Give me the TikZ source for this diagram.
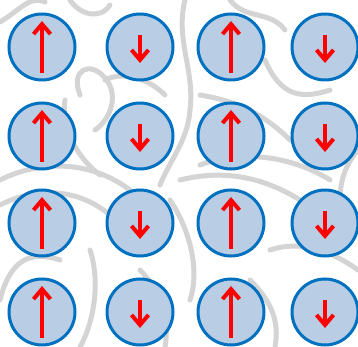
\documentclass[tikz,border=0pt]{standalone}
\usetikzlibrary{arrows.meta}

\definecolor{spinblue}{HTML}{0070C0}
\definecolor{spinfill}{HTML}{B9CDE5}
\definecolor{doodle}{HTML}{D4D4D4}

\begin{document}
\begin{tikzpicture}[
        x=1pt, y=-1pt,
        site/.style={circle, draw=spinblue, fill=spinfill, line width=3pt,
                     minimum size=66pt, inner sep=0pt},
        spin/.style={draw=red, line width=4pt,
                     -{Straight Barb[length=10pt, width=17pt, line width=4pt]}},
        bg/.style={draw=doodle, line width=5pt, line cap=round, line join=round},
    ]
    \useasboundingbox (0,0) rectangle (358,347);

    % background line drawing
    \draw[bg] (0,22) .. controls (20,10) and (30,-5) .. (45,2);
    \draw[bg] (70,0) .. controls (80,15) and (100,20) .. (110,5);
    \draw[bg] (80,95) .. controls (70,70) and (90,60) .. (105,78)
              .. controls (120,95) and (110,120) .. (95,130);
    \draw[bg] (65,100) .. controls (60,130) and (80,160) .. (100,175);
    \draw[bg] (105,80) .. controls (125,70) and (150,80) .. (165,95);
    \draw[bg] (185,0) .. controls (175,40) and (195,70) .. (190,110)
              .. controls (188,140) and (170,160) .. (160,185);
    \draw[bg] (230,0) .. controls (245,20) and (270,10) .. (285,30);
    \draw[bg] (265,60) .. controls (280,95) and (300,100) .. (330,90);
    \draw[bg] (200,95) .. controls (230,100) and (260,110) .. (290,140);
    \draw[bg] (0,180) .. controls (40,160) and (90,160) .. (130,190);
    \draw[bg] (0,205) .. controls (40,185) and (80,190) .. (110,215);
    \draw[bg] (0,300) .. controls (10,260) and (30,250) .. (60,260);
    \draw[bg] (90,250) .. controls (100,280) and (95,320) .. (80,347);
    \draw[bg] (170,200) .. controls (190,230) and (200,270) .. (190,300);
    \draw[bg] (180,180) .. controls (220,170) and (260,175) .. (300,200);
    \draw[bg] (200,165) .. controls (240,150) and (290,155) .. (330,180);
    \draw[bg] (270,250) .. controls (300,240) and (330,250) .. (358,270);
    \draw[bg] (250,280) .. controls (270,300) and (280,320) .. (275,347);
    \draw[bg] (140,270) .. controls (160,290) and (170,320) .. (165,347);
    \draw[bg] (358,150) .. controls (340,170) and (335,200) .. (345,230);

    % spin lattice
    \foreach \row/\ypos in {1/47, 2/136, 3/223, 4/312} {
        \foreach \col/\xpos in {1/42, 2/140, 3/231, 4/325} {
            \node[site] (s-\row-\col) at (\xpos,\ypos) {};
        }
        % spin up in odd columns, spin down in even columns
        \foreach \col in {1,3}
            \draw[spin] ([yshift=-26pt]s-\row-\col.center) -- ([yshift=26pt]s-\row-\col.center);
        \foreach \col in {2,4}
            \draw[spin] ([yshift=12pt]s-\row-\col.center) -- ([yshift=-16pt]s-\row-\col.center);
    }
\end{tikzpicture}
\end{document}
